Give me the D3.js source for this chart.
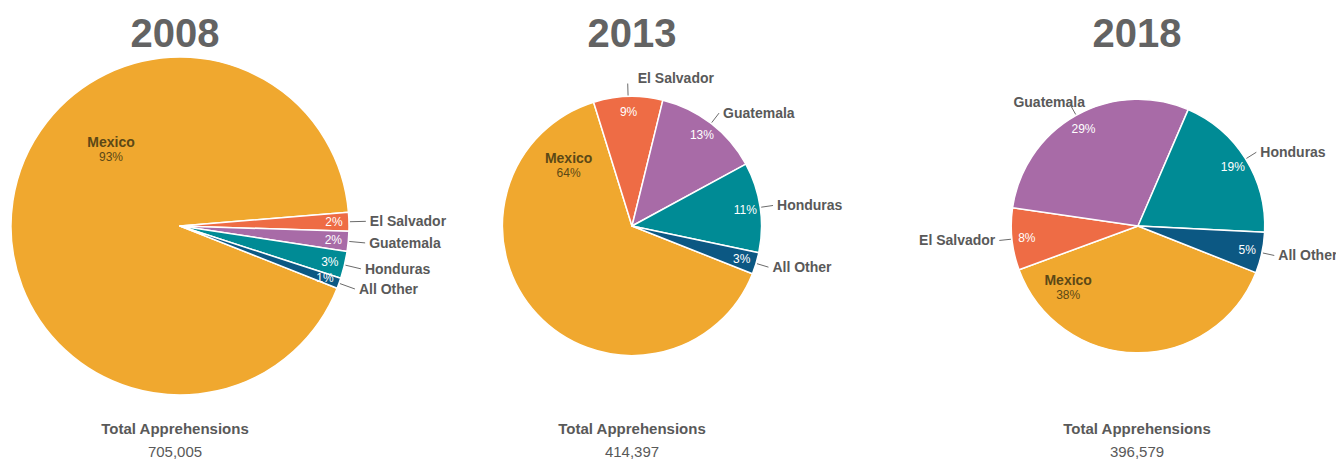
<!DOCTYPE html>
<html>
<head>
<meta charset="utf-8">
<script src="https://cdn.jsdelivr.net/npm/d3@7"></script>
<style>
  body { margin: 0; background: #fff; }
  svg { display: block; font-family: "Liberation Sans", Arial, sans-serif; }
</style>
</head>
<body>
<svg id="chart" width="1336" height="460"></svg>
<script>
// data
const categories = ["Mexico", "El Salvador", "Guatemala", "Honduras", "All Other"];
const years = ["2008", "2013", "2018"];
const totals = [705005, 414397, 396579];
const values2008 = [653540, 12690, 13395, 18330, 7050];
const values2013 = [266100, 35700, 54900, 46600, 11097];
const values2018 = [152257, 31369, 115722, 76513, 20718];
const series = [values2008, values2013, values2018];

const colors = ["#F0A82F", "#EE6C45", "#A86BA7", "#008B95", "#0C5883"];

// layout
const width = 1336;
const height = 460;
const pieX = [180, 632, 1138];
const textX = [175, 632, 1137];
const pieY = 226;
const startAngle = 111.6 * Math.PI / 180;
// where the Mexico label sits inside its slice (degrees clockwise from top, fraction of radius)
const mexicoLabelAngle = [318, 314, 229];
const mexicoLabelDist = [0.61, 0.68, 0.73];

const svg = d3.select("#chart");

const radius = d3.scaleSqrt()
    .domain([0, d3.max(totals)])
    .range([0, 169]);

const color = d3.scaleOrdinal()
    .domain(categories)
    .range(colors);

const pie = d3.pie()
    .sort(null)
    .value(d => d.value)
    .startAngle(startAngle)
    .endAngle(startAngle + 2 * Math.PI);

const pct = (v, t) => Math.round(v / t * 100) + "%";

years.forEach((year, i) => {
    const total = totals[i];
    const r = radius(total);
    const leader = r * 0.1;
    const rows = categories.map((c, j) => ({ name: c, value: series[i][j] }));
    const arcs = pie(rows);

    const arc = d3.arc().innerRadius(0).outerRadius(r);

    // title
    svg.append("text")
        .attr("x", textX[i])
        .attr("y", 47)
        .attr("text-anchor", "middle")
        .attr("font-size", 40)
        .attr("font-weight", "bold")
        .attr("fill", "#636363")
        .text(year);

    const g = svg.append("g")
        .attr("transform", "translate(" + pieX[i] + "," + pieY + ")");

    g.selectAll("path")
        .data(arcs)
        .enter()
        .append("path")
        .attr("d", arc)
        .attr("fill", d => color(d.data.name))
        .attr("stroke", "#fff")
        .attr("stroke-width", 1.5)
        .attr("stroke-linejoin", "round");

    const others = arcs.filter(d => d.data.name !== "Mexico");

    // percent inside slice
    g.selectAll(".pct")
        .data(others)
        .enter()
        .append("text")
        .attr("class", "pct")
        .attr("transform", d => {
            const m = (d.startAngle + d.endAngle) / 2;
            const rr = r - 15;
            return "translate(" + (rr * Math.sin(m)) + "," + (-rr * Math.cos(m)) + ")";
        })
        .attr("text-anchor", "middle")
        .attr("dy", "0.35em")
        .attr("font-size", 12)
        .attr("fill", "#fff")
        .text(d => pct(d.value, total));

    // leader lines and names outside
    others.forEach(d => {
        const m = (d.startAngle + d.endAngle) / 2;
        const s = Math.sin(m), c = Math.cos(m);
        const x0 = (r + 1) * s, y0 = -(r + 1) * c;
        const x1 = (r + leader) * s, y1 = -(r + leader) * c;

        let anchor, tx, ty;
        if (c > 0.8) {
            if (s < -0.2) { anchor = "end"; tx = x1 + 15; ty = y1 - 2; }
            else { anchor = "start"; tx = x1 + 10; ty = y1 - 5; }
        } else if (s >= 0) {
            anchor = "start"; tx = x1 + 4; ty = y1;
        } else {
            anchor = "end"; tx = x1 - 4; ty = y1;
        }

        g.append("line")
            .attr("x1", x0).attr("y1", y0)
            .attr("x2", x1).attr("y2", y1)
            .attr("stroke", "#6b6b6b")
            .attr("stroke-width", 1);

        g.append("text")
            .attr("x", tx)
            .attr("y", ty)
            .attr("dy", "0.35em")
            .attr("text-anchor", anchor)
            .attr("font-size", 14)
            .attr("font-weight", "bold")
            .attr("fill", "#595959")
            .text(d.data.name);
    });

    // Mexico label inside the big slice
    const mex = arcs.find(d => d.data.name === "Mexico");
    const a = mexicoLabelAngle[i] * Math.PI / 180;
    const dist = mexicoLabelDist[i] * r;
    const mx = dist * Math.sin(a), my = -dist * Math.cos(a);

    g.append("text")
        .attr("x", mx)
        .attr("y", my - 2)
        .attr("text-anchor", "middle")
        .attr("font-size", 14)
        .attr("font-weight", "bold")
        .attr("fill", "#5C4816")
        .text(mex.data.name);

    g.append("text")
        .attr("x", mx)
        .attr("y", my + 12)
        .attr("text-anchor", "middle")
        .attr("font-size", 12)
        .attr("fill", "#5C4816")
        .text(pct(mex.value, total));

    // totals below
    svg.append("text")
        .attr("x", textX[i])
        .attr("y", 434)
        .attr("text-anchor", "middle")
        .attr("font-size", 15)
        .attr("font-weight", "bold")
        .attr("fill", "#595959")
        .text("Total Apprehensions");

    svg.append("text")
        .attr("x", textX[i])
        .attr("y", 457)
        .attr("text-anchor", "middle")
        .attr("font-size", 15)
        .attr("fill", "#595959")
        .text(d3.format(",")(total));
});
</script>
</body>
</html>
